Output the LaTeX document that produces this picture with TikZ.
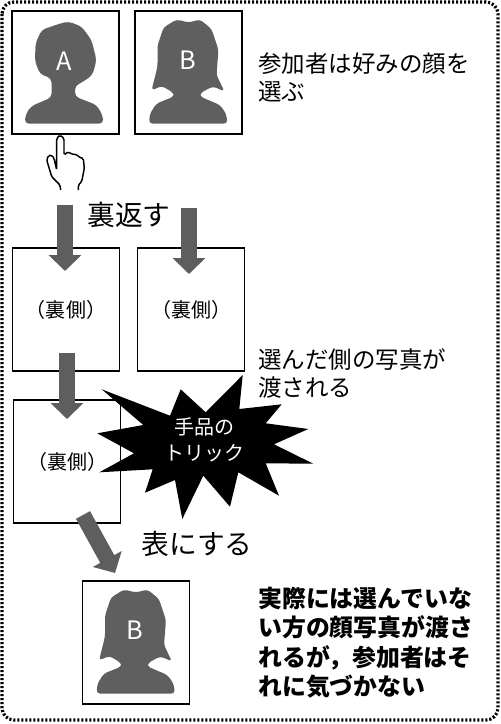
\documentclass[tikz,border=0pt]{standalone}
\usepackage{fontspec}
\setmainfont{Noto Sans CJK JP}
\usepackage{xcolor}
\usepackage{tikz}
\usetikzlibrary{arrows.meta}
\definecolor{facegray}{HTML}{5F5F5F}
\definecolor{arrowgray}{HTML}{5E5E5E}
\tikzset{
  photocard/.style={draw=black,line width=1.2pt,inner sep=0pt,minimum width=80.25pt,minimum height=92.25pt},
  backcard/.style={draw=black,line width=.8pt,fill=white,inner sep=0pt,minimum width=80.25pt,minimum height=92.25pt,font=\fontsize{15pt}{18pt}\selectfont},
  blockarrow/.style={arrowgray,line width=12pt,-{Triangle[length=12pt,width=24pt]}},
  facelabel/.style={text=white,inner sep=0pt,font=\fontsize{19pt}{21pt}\selectfont},
  steplabel/.style={anchor=west,inner sep=0pt,font=\fontsize{20.8pt}{24pt}\selectfont},
  notelabel/.style={anchor=north west,align=left,inner sep=0pt,font=\fontsize{17.6pt}{21pt}\selectfont},
  pics/facea/.style={code={
    \fill[facegray,rounded corners=3pt] (-14,6)--(-25.5,1.5)--(-30.5,-11)--(-30,-29)--(-24,-42.5)--(-7,-48.5)--(3,-51)--(16,-46)--(26,-32.5)--(31,-12.5)--(27,2.5)--(18,9)--(9.5,13.5)--(9.5,24)--(31,32.5)--(37,42.5)--(38,51)--(-41,51)--(-39.5,41)--(-34,33.5)--(-14,25)--(-14,15)--cycle;
    \node[facelabel] (-letter) at (-1,-11.5) {A};
  }},
  pics/faceb/.style={code={
    \fill[facegray,rounded corners=2.5pt] (0,-50)--(-12,-53)--(-25,-45)--(-31,-27)--(-31,-6)--(-37,18)--(-27,13.5)--(-22,16)--(-14.5,21)--(-14.5,24)--(-32,31)--(-38.5,41)--(-39.5,51)--(39,51)--(37.5,41)--(31.5,32.5)--(11.5,24)--(11.5,21)--(20,16)--(25,14)--(36,19)--(28,2.5)--(30,-22.5)--(23,-43.5)--(11.5,-53)--cycle;
    \node[facelabel] (-letter) at (-1,-12) {B};
  }},
}

\begin{document}
\begin{tikzpicture}[x=.75pt,y=-.75pt]
\useasboundingbox (0,0) rectangle (500,724);
\draw[line width=2.4pt,dash pattern=on 1.6pt off 1.4pt,rounded corners=9pt] (2,2) rectangle (498,720);

\node[photocard] (cardA) at (65.5,72.5) {};
\node[photocard] (cardB) at (188.5,72.5) {};
\pic (faceA) at (cardA) {facea};
\pic (faceB) at (cardB) {faceb};
\node[notelabel] (choose) at (258,53) {参加者は好みの顔を\\選ぶ};

\draw[black,line width=1.1pt,fill=white,rounded corners=1.2pt] (60.7,190)--(60,185)--(51.7,176.7)--(46.7,160)--(48.3,155.7)--(51.7,155)--(54,158.3)--(56.7,170)--(56.7,138.3)--(60,135)--(64,138.3)--(64,155)--(68.3,151.7)--(71.7,154.3)--(76.7,154.3)--(79,157.3)--(83.3,158.3)--(84.3,168.3)--(81.7,181.7)--(78.3,185)--(78.3,190);

\node[steplabel] (flip) at (87,215) {裏返す};
\node[backcard] (backA) at (66,309.5) {（裏側）};
\node[backcard] (backB) at (191,309.5) {（裏側）};
\coordinate (flipA) at (65,205); \coordinate (flipB) at (189,208);
\coordinate (tipA) at (65,271); \coordinate (tipB) at (189,274);
\draw[blockarrow] (flipA)--(tipA);
\draw[blockarrow] (flipB)--(tipB);

\node[notelabel] (handed) at (258,348) {選んだ側の写真が\\渡される};
\node[backcard] (backC) at (67,461.5) {（裏側）};
\coordinate (passTop) at (67,353); \coordinate (passTip) at (67,419);
\draw[blockarrow] (passTop)--(passTip);

\fill[black] (101.7,389.3)--(170,415.7)--(180.7,389.3)--(205.7,412.3)--(242.7,375)--(239.3,409)--(281.7,404.3)--(265.7,423.3)--(308.3,429)--(274,444.3)--(313.3,463.7)--(265.7,463.3)--(279,495.7)--(238.3,472.3)--(230,506.7)--(203.3,475.7)--(182.3,519)--(175,480)--(145,492.7)--(152.7,469.3)--(99.3,472.3)--(134,453.3)--(97.3,433.3)--(143.3,425)--cycle;
\node[text=white,align=center,inner sep=0pt,font=\fontsize{15pt}{20pt}\selectfont] (trick) at (204,440) {手品の\\トリック};

\node[steplabel] (reveal) at (141,544) {表にする};
\node[photocard] (cardEnd) at (136,642.5) {};
\pic (faceEnd) at (cardEnd) {faceb};
\coordinate (revealTop) at (83,515); \coordinate (revealTip) at (115,573);
\draw[blockarrow] (revealTop)--(revealTip);

\node[notelabel,font=\fontsize{17.9pt}{22pt}\bfseries\selectfont] (result) at (258,587) {実際には選んでいな\\い方の顔写真が渡さ\\れるが，参加者はそ\\れに気づかない};
\end{tikzpicture}
\end{document}
